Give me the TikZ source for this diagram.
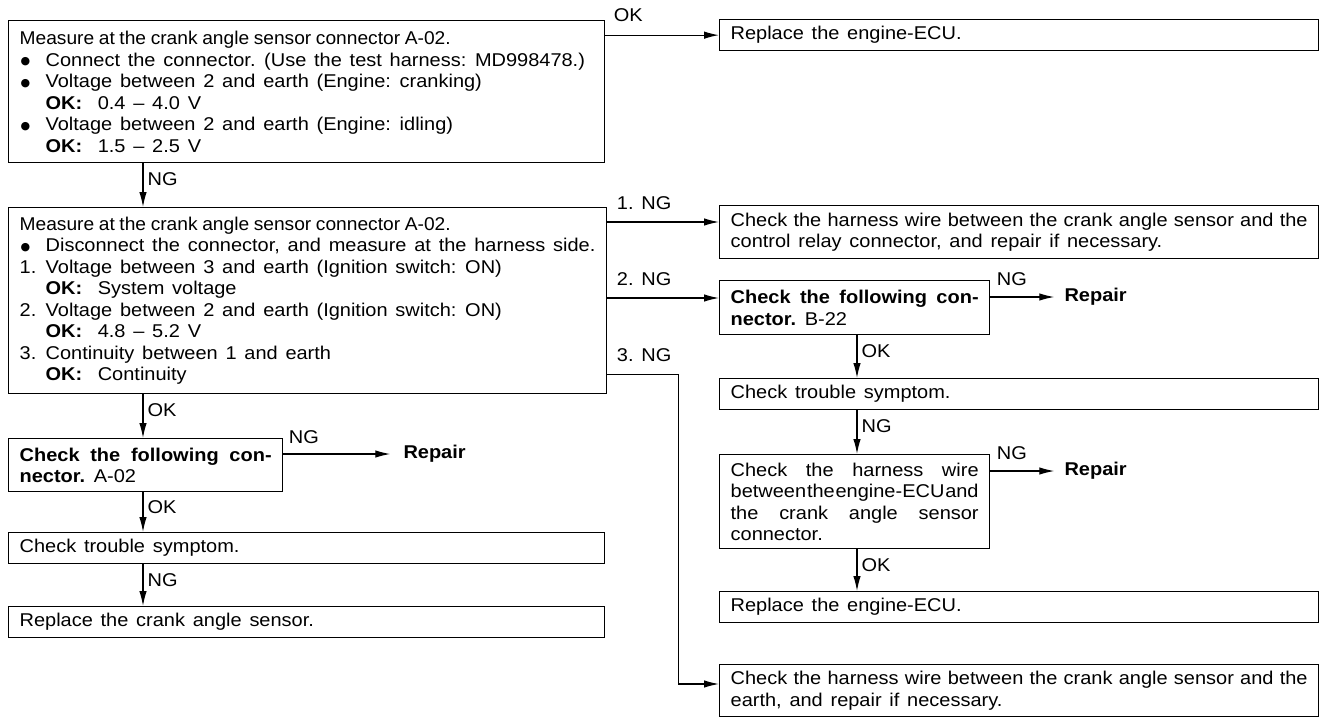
\documentclass[tikz,border=0pt]{standalone}
\usepackage{fontspec}
\usepackage{graphicx}
\setmainfont{Liberation Sans}[FakeStretch=1.08]
\newfontfamily\dejavu{DejaVu Sans}
\usetikzlibrary{arrows.meta,calc}
\newcommand\bul{\makebox[26pt][l]{\hspace*{1pt}\raisebox{1.5pt}{\dejavu\fontsize{11}{11}\selectfont ●}}}
\newcommand\ind{\hspace*{26pt}}
\newcommand\numi[1]{\makebox[26pt][l]{#1}}
\newcommand\spr[2]{\makebox[#1][s]{#2}}
\newcommand\head[1]{{\spaceskip=0.26em\relax\scalebox{0.96}[1]{#1}}}
\newcommand\setsp{\spaceskip=0.42em plus 0.5em minus 0.1em\xspaceskip=0.47em plus 0.5em minus 0.1em\relax}
\begin{document}
\begin{tikzpicture}[x=1pt,y=-1pt,
  txt/.style={font=\fontsize{18.5}{21.5}\selectfont},
  box/.style={txt,draw,line width=1.3pt,anchor=north west,inner xsep=11pt,inner ysep=4pt,align=left,execute at begin node=\setsp},
  arr/.style={line width=1.2pt,-{Latex[length=15pt,width=7.5pt]}},
  lbl/.style={txt,inner sep=0pt,execute at begin node=\setsp},
  rep/.style={txt,inner sep=0pt,font=\fontsize{18.5}{21.5}\selectfont\bfseries}]
\useasboundingbox (0,0) rectangle (1324,717);
\fill[white] (0,0) rectangle (1324,717);
\coordinate (colL) at (143,0);
\coordinate (colR) at (857,0);
% ---------- left column ----------
\node[box,text width=574pt,minimum height=142pt] (b1) at (8,20) {%
\head{Measure at the crank angle sensor connector A-02.}\\
\bul Connect the connector. (Use the test harness: MD998478.)\\
\bul Voltage between 2 and earth (Engine: cranking)\\
\ind\textbf{OK:}\ \ 0.4 -- 4.0 V\\
\bul Voltage between 2 and earth (Engine: idling)\\
\ind\textbf{OK:}\ \ 1.5 -- 2.5 V};
\node[box,text width=576pt,minimum height=186pt] (b2) at (8,207) {%
\head{Measure at the crank angle sensor connector A-02.}\\
\bul Disconnect the connector, and measure at the harness side.\\
\numi{1.}Voltage between 3 and earth (Ignition switch: ON)\\
\ind\textbf{OK:}\ \ System voltage\\
\numi{2.}Voltage between 2 and earth (Ignition switch: ON)\\
\ind\textbf{OK:}\ \ 4.8 -- 5.2 V\\
\numi{3.}Continuity between 1 and earth\\
\ind\textbf{OK:}\ \ Continuity};
\node[box,text width=252pt,minimum height=53pt] (b3) at (8,438) {%
\spr{252pt}{\textbf{Check the following con-}}\\
\textbf{nector.} A-02};
\node[box,text width=574pt,minimum height=31pt] (b4) at (8,532) {Check trouble symptom.};
\node[box,text width=574pt,minimum height=31pt] (b5) at (8,606) {Replace the crank angle sensor.};
% ---------- right column ----------
\node[box,text width=577pt,minimum height=31pt] (r1) at (719,19) {Replace the engine-ECU.};
\node[box,text width=577pt,minimum height=53pt] (r2) at (719,205) {%
\spr{577pt}{Check the harness wire between the crank angle sensor and the}\\
control relay connector, and repair if necessary.};
\node[box,text width=248pt,minimum height=54pt] (r3) at (719,280) {%
\spr{248pt}{\textbf{Check the following con-}}\\
\textbf{nector.} B-22};
\node[box,text width=577pt,minimum height=31pt] (r4) at (719,378) {Check trouble symptom.};
\node[box,text width=248pt,minimum height=94pt] (r5) at (719,454) {%
\spr{248pt}{Check the harness wire}\\
\makebox[248pt]{between\hfill the\hfill engine-ECU\hfill and}\\
\spr{248pt}{the crank angle sensor}\\
connector.};
\node[box,text width=577pt,minimum height=31pt] (r6) at (719,591) {Replace the engine-ECU.};
\node[box,text width=577pt,minimum height=52pt] (r7) at (719,664) {%
\spr{577pt}{Check the harness wire between the crank angle sensor and the}\\
earth, and repair if necessary.};
% ---------- coordinates on edges ----------
\coordinate (okA) at (b1.east |- r1.west);
\coordinate (r2in) at ($(r2.north west)+(0,17)$);
\coordinate (r3in) at ($(r3.north west)+(0,18)$);
\coordinate (r7in) at ($(r7.north west)+(0,20)$);
\coordinate (b3out) at ($(b3.north east)+(0,16)$);
\coordinate (r3out) at ($(r3.north east)+(0,17)$);
\coordinate (r5out) at ($(r5.north east)+(0,17)$);
\coordinate (s3) at ($(b2.south east)+(0,-20)$);
\node[rep,anchor=west] (rep1) at ($(b3out)+(120,0)$) {Repair};
\node[rep,anchor=west] (rep2) at ($(r3out)+(74,0)$) {Repair};
\node[rep,anchor=west] (rep3) at ($(r5out)+(74,0)$) {Repair};
% ---------- connectors ----------
\draw[arr] (okA) -- node[lbl,pos=0,anchor=base west,xshift=8pt,yshift=14pt]{OK} (r1.west);
\draw[arr] (b2.east |- r2in) -- node[lbl,pos=0,anchor=base west,xshift=9pt,yshift=13pt]{1.\ NG} (r2in);
\draw[arr] (b2.east |- r3in) -- node[lbl,pos=0,anchor=base west,xshift=9pt,yshift=13pt]{2.\ NG} (r3in);
\draw[arr] (s3) -- node[lbl,pos=0,anchor=base west,xshift=9pt,yshift=13pt]{3.\ NG} ++(71,0) |- (r7in);
\draw[arr] (colL |- b1.south) -- node[lbl,pos=0,anchor=north west,xshift=4pt,yshift=-9pt]{NG} (colL |- b2.north);
\draw[arr] (colL |- b2.south) -- node[lbl,pos=0,anchor=north west,xshift=4pt,yshift=-9pt]{OK} (colL |- b3.north);
\draw[arr] (colL |- b3.south) -- node[lbl,pos=0,anchor=north west,xshift=4pt,yshift=-8pt]{OK} (colL |- b4.north);
\draw[arr] (colL |- b4.south) -- node[lbl,pos=0,anchor=north west,xshift=4pt,yshift=-9pt]{NG} (colL |- b5.north);
\draw[arr] (colR |- r3.south) -- node[lbl,pos=0,anchor=north west,xshift=4pt,yshift=-9pt]{OK} (colR |- r4.north);
\draw[arr] (colR |- r4.south) -- node[lbl,pos=0,anchor=north west,xshift=4pt,yshift=-9pt]{NG} (colR |- r5.north);
\draw[arr] (colR |- r5.south) -- node[lbl,pos=0,anchor=north west,xshift=4pt,yshift=-9pt]{OK} (colR |- r6.north);
\draw[arr,shorten >=13pt] (b3out) -- node[lbl,pos=0,anchor=base west,xshift=5pt,yshift=11pt]{NG} (rep1.west);
\draw[arr,shorten >=10pt] (r3out) -- node[lbl,pos=0,anchor=base west,xshift=6pt,yshift=12pt]{NG} (rep2.west);
\draw[arr,shorten >=10pt] (r5out) -- node[lbl,pos=0,anchor=base west,xshift=6pt,yshift=12pt]{NG} (rep3.west);
\end{tikzpicture}
\end{document}
